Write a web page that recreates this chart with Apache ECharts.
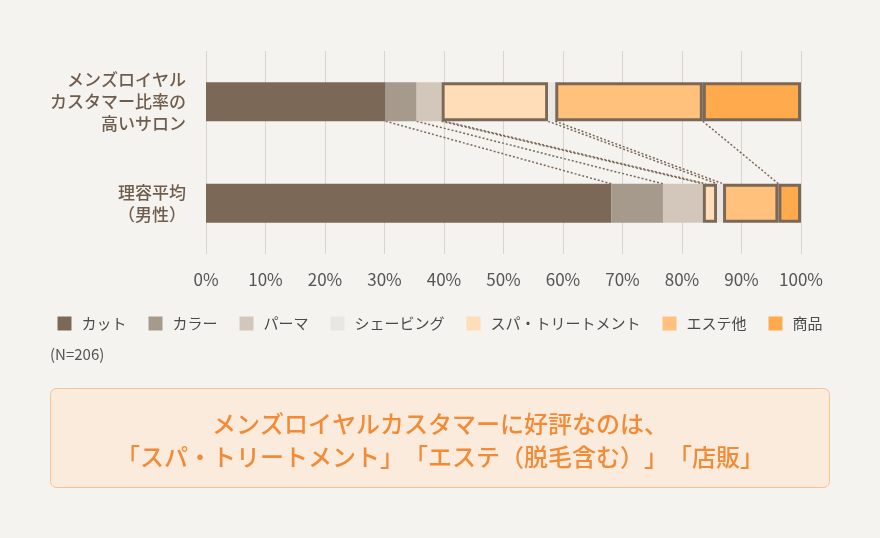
<!DOCTYPE html>
<html lang="ja">
<head>
<meta charset="utf-8">
<script src="https://cdn.jsdelivr.net/npm/echarts@6/dist/echarts.min.js"></script>
<style>
  html, body { margin: 0; padding: 0; background: #F5F3EF; }
  /* keep full-width brackets at full width like the original */
  html, body, #chart, #chart canvas { text-spacing-trim: space-all; }
  #chart { width: 880px; height: 538px; }
</style>
</head>
<body>
<div id="chart"></div>
<script>
const FONT = '"Noto Sans CJK JP", "Noto Sans", sans-serif'
const BAR_WIDTH = 39
const EDGE = '#7B6856'

// rows, top to bottom
const categories = ['メンズロイヤル\nカスタマー比率の\n高いサロン', '理容平均\n（男性）']

// percent values per row, in the order they sit in the bar
const cut = [30.2, 68.1]
const color = [5.2, 8.7]
const perm = [4.2, 6.7]
const spa = [17.9, 2.4]
const shaving = [1.2, 1.0]
const esthe = [24.8, 9.3]
const retail = [16.5, 3.8]

const legendOrder = ['カット', 'カラー', 'パーマ', 'シェービング', 'スパ・トリートメント', 'エステ他', '商品']
const xTicks = [0, 10, 20, 30, 40, 50, 60, 70, 80, 90, 100]

const segments = [
  { name: 'カット', values: cut, color: '#7B6856' },
  { name: 'カラー', values: color, color: '#A69A8D' },
  { name: 'パーマ', values: perm, color: '#D3C7BB' },
  { name: 'スパ・トリートメント', values: spa, color: '#FFDDB8', boxed: true },
  { name: 'シェービング', values: shaving, color: '#E9E7E3' },
  { name: 'エステ他', values: esthe, color: '#FFC17B', boxed: true },
  { name: '商品', values: retail, color: '#FFAB4D', boxed: true },
]

// cumulative boundaries between segments, used for the dotted connectors
const links = []
let accTop = 0, accBottom = 0
segments.slice(0, -1).forEach(s => {
  accTop += s.values[0]
  accBottom += s.values[1]
  links.push([accTop, accBottom, 0, 0])
  // the boxed spa segment gets a second line from its inner edge
  if (s.name === 'パーマ') links.push([accTop, accBottom, 0, 3])
})

const chart = echarts.init(document.getElementById('chart'))

chart.setOption({
  backgroundColor: '#F5F3EF',
  animation: false,
  textStyle: { fontFamily: FONT },
  grid: { left: 206, right: 79, top: 51, height: 203, containLabel: false },
  legend: {
    data: legendOrder,
    left: 'center',
    top: 311,
    icon: 'rect',
    itemWidth: 14,
    itemHeight: 14,
    itemGap: 22,
    itemStyle: { borderWidth: 0 },
    textStyle: { fontSize: 15, color: '#4A4A4A', fontFamily: FONT, padding: [0, 0, 0, 5] },
  },
  xAxis: {
    type: 'value',
    min: 0,
    max: 100,
    interval: 10,
    axisLine: { show: false },
    axisTick: { show: false },
    splitLine: { lineStyle: { color: '#D8D5D0', width: 1 } },
    axisLabel: {
      margin: 17,
      fontSize: 17,
      color: '#555',
      fontFamily: FONT,
      formatter: v => (xTicks.includes(v) ? v + '%' : ''),
    },
  },
  yAxis: {
    type: 'category',
    inverse: true,
    data: categories,
    axisLine: { show: false },
    axisTick: { show: false },
    axisLabel: {
      margin: 20,
      fontSize: 17,
      lineHeight: 22,
      fontWeight: 500,
      color: '#6E5C4C',
      align: 'right',
      fontFamily: FONT,
    },
  },
  series: [
    ...segments.map(s => ({
      name: s.name,
      type: 'bar',
      stack: 'total',
      barWidth: BAR_WIDTH,
      data: s.values,
      itemStyle: s.boxed
        ? { color: s.color, borderColor: EDGE, borderWidth: 3 }
        : { color: s.color },
      emphasis: { disabled: true },
    })),
    {
      type: 'custom',
      name: 'links',
      data: links,
      encode: { x: [0, 1], y: 2 },
      silent: true,
      z: 1,
      renderItem: (params, api) => {
        const top = api.coord([api.value(0), 0])
        const bottom = api.coord([api.value(1), 1])
        const off = api.value(3)
        return {
          type: 'line',
          shape: {
            x1: top[0] + off, y1: top[1] + BAR_WIDTH / 2,
            x2: bottom[0] + off, y2: bottom[1] - BAR_WIDTH / 2,
          },
          style: { stroke: EDGE, lineWidth: 1.5, lineDash: [2, 2], fill: null },
        }
      },
    },
  ],
  graphic: [
    {
      type: 'text',
      left: 50,
      top: 347,
      style: { text: '(N=206)', font: `15px ${FONT}`, fill: '#555' },
    },
    {
      type: 'rect',
      shape: { x: 50.5, y: 388.5, width: 779, height: 99, r: 6 },
      style: { fill: '#FAEBDC', stroke: '#F7C393', lineWidth: 1 },
    },
    {
      type: 'text',
      x: 440,
      y: 440,
      style: {
        text: 'メンズロイヤルカスタマーに好評なのは、\n「スパ・トリートメント」「エステ（脱毛含む）」「店販」',
        font: `500 24px ${FONT}`,
        fill: '#F28A36',
        align: 'center',
        verticalAlign: 'middle',
        lineHeight: 33,
      },
    },
  ],
})
</script>
</body>
</html>
